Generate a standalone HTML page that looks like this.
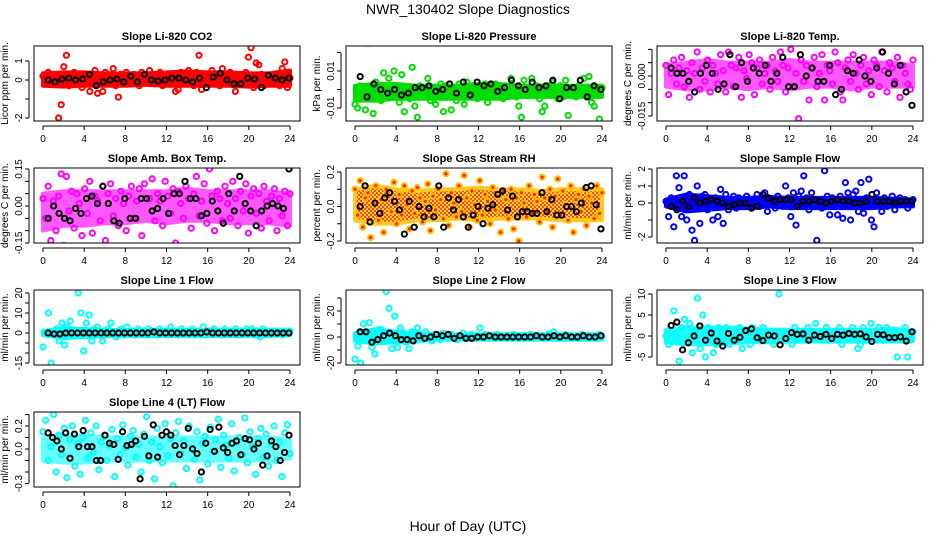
<!DOCTYPE html>
<html><head><meta charset="utf-8"><style>
body{margin:0;background:#fff}
svg{display:block;font-family:"Liberation Sans",sans-serif}
</style></head><body>
<svg id="chart" width="936" height="540" viewBox="0 0 936 540">
<defs>
<pattern id="rhpat" width="4" height="4" patternUnits="userSpaceOnUse"><rect width="4" height="4" fill="#ffd000"/><rect width="2" height="2" fill="#ff2000"/><rect x="2" y="2" width="2" height="2" fill="#ff2000"/></pattern>
</defs>
<rect width="936" height="540" fill="#fff"/>
<text x="468" y="14" text-anchor="middle" font-size="14">NWR_130402  Slope Diagnostics</text>
<text x="468" y="531" text-anchor="middle" font-size="14">Hour of Day (UTC)</text>
</svg>
<script>
const xTicks = [0,4,8,12,16,20,24];
const bandHours = [0,2,4,6,8,10,12,14,16,18,20,22,24];
const co2Vals = [0.2,-0.2,0.4,0.1,-0.1,0.3,-2.0,-1.3,0.7,1.3,-0.3,0.2,0.4,-0.1,0.3,-0.4,0.1,0.2,-0.6,0.3,0.5,-0.7,0.2,-0.6,0.4,-0.2,0.1,0.6,-0.3,-0.9,0.3,-0.1,0.4,0.2,-0.2,0.3,0.1,-0.3,0.4,0.2,-0.1,0.5,0.3,-0.2,0.1,0.4,-0.3,0.2,0.3,-0.1,0.1,-0.6,-0.5,0.4,0.2,-0.2,0.5,0.1,-0.3,0.4,1.3,-0.5,0.2,0.3,-0.2,0.5,0.1,0.2,-0.3,0.6,0.3,-0.2,0.4,0.1,-0.6,0.2,0.3,-0.2,0.4,1.2,1.7,-0.4,0.9,0.8,0.3,-0.3,0.2,0.1,-0.2,0.3,0.2,-0.3,0.6,0.95,-0.4,0.1];
const co2Black = [0,-0.1,0.05,0.1,0,0.05,0.3,-0.3,-0.1,0,0.05,-0.1,0.2,-0.1,0.3,0,-0.05,0,0.1,0.1,0,-0.1,0.1,-0.4,0.15,0.35,0,-0.2,-0.2,0.1,0.05,-0.4,0.25,0.1,0,0.1];
const co2Lo = [-0.3,-0.35,-0.3,-0.3,-0.3,-0.25,-0.3,-0.3,-0.3,-0.3,-0.35,-0.3,-0.3];
const co2Hi = [0.35,0.4,0.4,0.35,0.35,0.35,0.4,0.45,0.4,0.4,0.35,0.35,0.5];
const presVals = [-0.008,-0.01,0.002,-0.003,-0.011,0.025,-0.005,-0.013,0.004,-0.002,-0.006,0.009,-0.001,0.006,-0.004,0.01,-0.003,-0.007,0.008,-0.012,0.001,-0.005,0.012,-0.009,-0.015,0.002,-0.003,-0.001,0.006,-0.006,0.001,-0.008,-0.002,0.003,-0.012,0.002,-0.004,-0.011,0.001,-0.006,0.003,-0.002,-0.008,0.004,-0.001,-0.004,0.002,-0.005,0.001,-0.003,0.003,-0.007,0.0,-0.002,0.003,-0.004,0.001,-0.005,0.002,-0.003,0.006,-0.001,-0.004,-0.009,-0.015,0.005,0.001,-0.003,0.006,-0.002,0.002,-0.005,-0.012,-0.009,0.002,-0.003,0.004,-0.001,-0.005,0.002,-0.004,0.005,-0.014,-0.003,0.001,-0.004,0.002,-0.001,0.006,-0.003,0.007,-0.007,-0.009,-0.002,-0.016,0.001];
const presBlack = [0.007,-0.004,0.003,0,-0.002,0,-0.003,-0.002,0.001,0.001,0.002,-0.001,0,0.003,-0.002,0.004,-0.003,0.004,0.002,0.003,-0.001,0.001,0.005,0.002,0,0.004,0.001,0.002,0.005,-0.005,0.001,0.001,0.005,-0.004,0.002,0];
const presLo = [-0.006,-0.006,-0.005,-0.005,-0.005,-0.005,-0.005,-0.005,-0.004,-0.004,-0.004,-0.004,-0.004];
const presHi = [0.002,0.003,0.003,0.002,0.002,0.002,0.003,0.003,0.002,0.002,0.002,0.002,0.002];
const tempVals = [0.004,-0.007,0.001,0.006,-0.003,0.003,0.007,-0.004,0.002,-0.008,0.005,0.001,0.009,-0.005,0.003,-0.002,0.006,-0.006,0.004,0.001,-0.003,0.008,0.002,-0.006,0.009,0.004,-0.004,0.003,0.007,-0.008,0.002,-0.001,0.008,0.005,-0.007,0.003,0.006,-0.003,0.001,0.004,-0.005,0.007,0.002,-0.002,0.009,0.004,-0.006,0.003,0.01,-0.004,0.001,-0.016,0.006,-0.002,0.004,-0.009,0.003,0.007,-0.004,0.001,0.008,-0.009,0.004,0.002,-0.003,0.009,0.005,-0.006,-0.009,0.003,0.006,-0.002,0.008,0.001,-0.005,0.004,0.007,-0.003,0.002,-0.007,0.006,0.004,-0.004,0.009,0.002,-0.006,0.005,0.003,-0.002,0.007,-0.008,0.004,0.001,-0.003,-0.005,0.006];
const tempBlack = [0.003,0.001,0.001,-0.002,-0.006,0.001,0.004,0.001,-0.005,-0.003,0.008,-0.004,0.005,-0.002,0.003,0.001,0.004,-0.002,0.001,0.007,-0.004,-0.004,0.008,0,0.003,-0.002,-0.002,0.004,-0.007,-0.005,0.002,0.001,0.006,0,-0.002,0.003,0.009,0.001,-0.003,0.004,-0.006,-0.011];
const tempLo = [-0.004,-0.005,-0.005,-0.004,-0.005,-0.004,-0.005,-0.004,-0.004,-0.005,-0.004,-0.004,-0.004];
const tempHi = [0.004,0.005,0.006,0.005,0.005,0.005,0.006,0.005,0.005,0.005,0.005,0.005,0.004];
const ambVals = [0.03,-0.05,0.08,-0.14,0.02,-0.1,0.04,0.13,-0.16,0.12,-0.02,0.06,-0.09,0.05,0.01,-0.12,0.07,-0.03,0.1,-0.11,0.04,0.02,-0.06,0.08,-0.14,0.05,0.09,-0.04,0.03,-0.08,0.06,0.01,-0.1,0.04,0.08,-0.05,0.02,0.07,-0.12,0.09,-0.17,0.03,0.11,-0.06,0.05,0.02,-0.08,0.1,0.04,-0.03,0.07,-0.15,0.06,0.01,-0.05,0.08,0.03,-0.09,0.05,0.12,-0.04,0.02,0.09,-0.07,0.15,0.04,-0.1,0.06,0.03,-0.06,0.08,0.01,-0.05,0.1,0.03,-0.08,0.06,-0.02,0.09,-0.11,0.04,0.07,-0.03,0.05,-0.09,0.08,0.02,-0.06,0.04,0.07,-0.1,0.03,-0.04,0.06,-0.08,0.05];
const ambBlack = [-0.05,0,-0.03,-0.05,-0.06,-0.01,-0.03,0.03,0.04,0.01,0.08,0.01,-0.06,-0.07,0.03,-0.05,-0.05,0.03,0.03,-0.02,-0.01,0.03,-0.03,0.05,0.05,0.1,0.03,0.03,-0.04,-0.03,0.02,-0.02,-0.07,0.05,-0.02,0.12,0.01,-0.02,-0.08,-0.02,0,0.01,0,-0.01,0.15];
const ambLo = [-0.1,-0.08,-0.08,-0.07,-0.07,-0.06,-0.07,-0.06,-0.06,-0.07,-0.07,-0.07,-0.08];
const ambHi = [0.05,0.06,0.06,0.06,0.06,0.06,0.06,0.07,0.06,0.06,0.06,0.06,0.05];
const rhVals = [0.1,-0.05,0.15,-0.12,0.05,0.08,-0.18,0.02,0.12,-0.08,0.04,-0.15,0.1,0.06,-0.03,0.14,-0.1,0.07,-0.05,0.12,0.01,-0.13,0.09,-0.04,0.11,0.05,-0.09,0.03,0.13,-0.14,0.06,-0.02,0.1,0.04,-0.07,0.19,-0.11,0.08,0.02,-0.06,0.12,-0.03,0.18,0.05,-0.12,0.09,0.01,-0.08,0.15,-0.05,0.07,0.03,-0.1,0.11,-0.02,0.06,-0.15,0.09,0.04,-0.07,0.1,-0.13,0.05,-0.2,0.08,0.02,-0.06,0.12,-0.04,0.07,0.03,-0.09,0.17,0.05,-0.03,0.1,-0.12,0.06,0.16,-0.05,0.09,0.01,-0.08,0.12,-0.15,0.04,0.07,-0.03,0.1,-0.11,0.06,0.02,-0.07,0.12,-0.04,0.08];
const rhBlack = [0,0.12,-0.09,0.02,-0.04,0.05,0.08,0.03,-0.02,-0.16,0.03,-0.12,0,-0.06,-0.01,-0.06,0.12,-0.12,0.05,-0.02,0.04,-0.06,-0.12,-0.05,0,-0.1,-0.01,0.01,0.07,0.09,-0.02,0.06,-0.06,-0.03,-0.03,-0.04,-0.04,0.08,-0.03,0.04,-0.05,-0.05,0,0,-0.03,0.02,0.11,0.12,0.01,-0.13];
const rhLo = [-0.08,-0.1,-0.1,-0.08,-0.08,-0.07,-0.08,-0.07,-0.07,-0.07,-0.08,-0.08,-0.08];
const rhHi = [0.1,0.12,0.1,0.09,0.1,0.1,0.11,0.1,0.1,0.09,0.1,0.1,0.1];
const flowVals = [0.1,-0.8,0.3,-1.4,1.6,0.9,-0.8,1.6,-1.0,0.5,-1.6,-2.2,1.0,-1.2,0.4,0.5,-0.4,0.2,-1.0,0.3,-0.8,0.8,-1.2,0.5,-0.4,0.2,0.4,-0.3,0.3,0.1,-0.2,0.4,0.2,-0.3,0.1,0.5,-0.2,0.3,0.6,-0.5,0.2,0.1,-0.3,0.4,0.2,-0.2,1.0,0.3,-0.8,0.6,-1.3,0.4,0.7,1.6,0.3,-0.4,0.6,0.1,-2.2,0.2,-0.3,1.9,0.4,-0.7,0.3,0.1,-0.7,0.4,-0.9,1.2,0.6,-1.0,0.5,0.7,-0.5,1.2,-0.6,0.3,1.4,-1.0,-1.4,0.6,0.2,-0.5,0.3,-0.2,0.1,0.4,-0.4,0.2,0.3,-0.1,0.2,-0.3,0.1,0.2];
const flowBlack = [-0.2,-0.4,0.1,-0.2,0.3,0,0.1,0.2,0.1,0,-0.2,-0.1,0,0,-0.3,-0.2,0.5,0.3,0.1,0.2,0.2,0.2,-0.2,0.1,0.1,0.2,0.1,0,0.1,0.2,0.1,0.1,0,0,0.1,0.5,0.1,0.1,0.1,0,0.1,0.1,0.1];
const flowLo = [-0.2,-0.5,-0.4,-0.3,-0.3,-0.2,-0.3,-0.3,-0.3,-0.3,-0.3,-0.2,-0.2];
const flowHi = [0.2,0.5,0.4,0.3,0.3,0.35,0.3,0.3,0.3,0.3,0.3,0.25,0.2];
const l1Vals = [-7,0,10,-15,0,2,-4,5,-6,3,6,1,0,20,10,-9,5,9,-4,2,3,-1,-4,1,2,5,0,-2,1,2,-1,3,0,1,-1,2,0,1,-1,2,1,0,-1,2,0,1,-1,3,0,1,-1,2,0,1,0,2,-1,1,0,3,-1,1,0,2,0,1,-1,2,0,1,0,2,-1,1,0,2,0,2,-1,1,-2,2,0,1,0,1,0,1,-1,1,0,1];
const l1Black = [0,-0.5,-0.5,0,0,0,0,0,0,0,0,0,0,0,0,0,0,0,0.5,0,0,0,0,0,0,0,0,0.5,0,0,0,0,0,0,0,0,0,0,0,0,0,0];
const l1Lo = [-1,-2.5,-2,-1.5,-1.5,-1.5,-1.5,-1.5,-1.5,-1.5,-1.5,-1.5,-1];
const l1Hi = [1,2.5,2,1.5,1.5,1.5,1.5,1.5,1.5,1.5,1.5,1.5,1];
const l2Vals = [-17,-7,-20,10,-3,11,-8,-13,5,6,-3,35,22,-9,16,-8,7,3,-4,-9,4,-3,7,2,-2,4,0,-3,2,1,-2,3,0,-1,2,0,-2,1,3,-1,0,2,-1,1,7,0,2,-1,1,0,2,-1,1,0,1,-1,2,0,1,-1,1,0,2,-1,1,0,1,-1,2,0,4,-1,1,0,2,-1,1,0,1,-1,2,0,1,0,1,-1,2,0];
const l2Black = [4,4,-4,-2,1,3,1,-2,-2,-3,1,-1,0,2,1,2,-1,1,-1,-1,0,0,1,0,0,0,0,0,0,0,1,0,0,1,0,1,0,0,1,0,0,1];
const l2Lo = [-3,-5,-4,-3,-2,-2,-2,-2,-2,-2,-2,-2,-2];
const l2Hi = [3,6,4,3,2,2,2,2,2,2,2,2,2];
const l3Vals = [0,-2,1,6,-1,-6,2,4,-1,3,-4,1,9,-3,5,-5,2,0,-4,-2,2,1,-1,2,-2,1,0,-1,2,-3,1,0,-2,2,-1,1,0,2,-1,0,1,-2,1,10,0,-1,1,0,-2,2,-1,1,0,-1,2,-1,1,3,0,-1,1,2,-1,0,1,-1,2,-2,0,1,-1,2,0,-3,-2,2,-1,1,3,0,-1,2,1,-1,2,0,-1,1,-5,0,-1,2,-5,-1,1];
const l3Black = [2.5,3.3,-3.3,-1.6,0,2.4,-1,0.7,-1.2,-2.4,0.6,-1,-0.3,1.3,1.7,-0.4,-1.1,0.2,0,-2.1,-0.6,0.8,0.4,0.5,-1,0.2,-0.1,0.4,-0.6,0.4,0.2,0.6,0.4,0.5,-0.2,-1.3,0.4,0.3,-0.4,-0.4,-0.2,-1.2,1];
const l3Lo = [-1.5,-2,-2,-1.8,-1.5,-1.5,-1.3,-1.3,-1.3,-1.3,-1.3,-1.3,-1.2];
const l3Hi = [1.5,2,2,2,1.8,1.5,1.5,1.5,1.5,1.5,1.5,1.8,1.2];
const l4Vals = [0.15,0.25,-0.1,0.02,0.3,-0.2,0.12,-0.05,0.18,-0.25,0.08,0.2,-0.15,0.05,-0.22,0.1,0.25,-0.08,0.14,-0.03,0.2,-0.18,0.06,0.12,-0.1,0.03,0.17,-0.24,0.09,-0.05,0.21,0.01,-0.14,0.11,0.16,-0.07,0.04,-0.2,0.13,0.28,-0.1,0.06,-0.26,0.18,0.02,-0.12,0.22,-0.06,0.09,-0.32,0.14,0.24,-0.04,0.07,-0.17,0.2,0.01,-0.09,0.15,-0.27,0.05,0.11,-0.13,0.19,-0.02,0.08,0.26,-0.16,0.12,0.03,-0.08,0.22,-0.19,0.06,0.1,-0.05,0.27,-0.12,0.15,0.02,-0.22,0.09,0.18,-0.07,0.13,-0.15,0.04,0.2,-0.1,0.06,-0.24,0.14,0.21,-0.04];
const l4Black = [0.14,0.1,0.07,0,0.14,-0.08,0.13,0.02,0.16,0.02,0.02,-0.1,-0.1,0.12,0.05,0.04,-0.09,0.15,0.03,0.04,0.07,-0.26,0.11,-0.06,0.21,-0.07,0.12,0.15,0.12,0.03,-0.05,0.03,0.18,0,-0.04,-0.2,0.05,0.17,-0.02,0.19,0.01,-0.03,0.05,0.07,-0.05,0.09,0.08,0,0.05,-0.14,-0.06,0.07,0.02,-0.1,-0.03,0.12];
const l4Lo = [-0.1,-0.12,-0.12,-0.1,-0.1,-0.1,-0.1,-0.1,-0.1,-0.1,-0.1,-0.1,-0.08];
const l4Hi = [0.1,0.12,0.12,0.1,0.1,0.1,0.1,0.1,0.1,0.1,0.1,0.1,0.08];

const NS='http://www.w3.org/2000/svg';
const svg=document.getElementById('chart');
function mk(tag,attrs,parent){const e=document.createElementNS(NS,tag);for(const k in attrs)e.setAttribute(k,attrs[k]);(parent||svg).appendChild(e);return e;}

const panels=[
 {name:'co2',title:'Slope Li-820 CO2',ylab:'Licor ppm per min.',col:0,row:0,v1:1,p1:61,v2:0,p2:80,ticks:[-2,-1,0,1],labels:{'-2':'-2','0':'0','1':'1'},color:'#ff0000',op:1,vals:co2Vals,black:co2Black,lo:co2Lo,hi:co2Hi},
 {name:'pressure',title:'Slope Li-820 Pressure',ylab:'kPa per min.',col:1,row:0,v1:0.01,p1:71,v2:-0.01,p2:108,ticks:[-0.01,0,0.01,0.02],labels:{'-0.01':'-0.01','0.01':'0.01'},color:'#00dd00',op:1,vals:presVals,black:presBlack,lo:presLo,hi:presHi},
 {name:'temp',title:'Slope Li-820 Temp.',ylab:'degrees C per min.',col:2,row:0,v1:0,p1:76,v2:-0.015,p2:116,ticks:[-0.015,-0.01,-0.005,0,0.005,0.01],labels:{'0':'0.000','-0.015':'-0.015'},color:'#ff00ff',op:0.65,vals:tempVals,black:tempBlack,lo:tempLo,hi:tempHi},
 {name:'amb-temp',title:'Slope Amb. Box Temp.',ylab:'degrees C per min.',col:0,row:1,v1:0.15,p1:169,v2:-0.15,p2:243,ticks:[-0.15,-0.1,-0.05,0,0.05,0.1,0.15],labels:{'0.15':'0.15','0':'0.00','-0.15':'-0.15'},color:'#ff00ff',op:0.65,vals:ambVals,black:ambBlack,lo:ambLo,hi:ambHi},
 {name:'gas-rh',title:'Slope Gas Stream RH',ylab:'percent per min.',col:1,row:1,v1:0.2,p1:172,v2:-0.2,p2:241,ticks:[-0.2,-0.1,0,0.1,0.2],labels:{'0.2':'0.2','0':'0.0','-0.2':'-0.2'},color:'#ffc000',inner:'#ff2000',bandFill:'url(#rhpat)',op:0.85,vals:rhVals,black:rhBlack,lo:rhLo,hi:rhHi},
 {name:'sample-flow',title:'Slope Sample Flow',ylab:'ml/min per min.',col:2,row:1,v1:2,p1:169,v2:-2,p2:237,ticks:[-2,-1,0,1,2],labels:{'2':'2','1':'1','0':'0','-2':'-2'},color:'#0000ff',op:1,vals:flowVals,black:flowBlack,lo:flowLo,hi:flowHi},
 {name:'line1-flow',title:'Slope Line 1 Flow',ylab:'ml/min per min.',col:0,row:2,v1:20,p1:293,v2:0,p2:333,ticks:[-15,-10,-5,0,5,10,15,20],labels:{'20':'20','10':'10','0':'0','-15':'-15'},color:'#00ffff',op:1,vals:l1Vals,black:l1Black,lo:l1Lo,hi:l1Hi},
 {name:'line2-flow',title:'Slope Line 2 Flow',ylab:'ml/min per min.',col:1,row:2,v1:20,p1:311,v2:-20,p2:363,ticks:[-20,-10,0,10,20,30],labels:{'20':'20','0':'0','-20':'-20'},color:'#00ffff',op:1,vals:l2Vals,black:l2Black,lo:l2Lo,hi:l2Hi},
 {name:'line3-flow',title:'Slope Line 3 Flow',ylab:'ml/min per min.',col:2,row:2,v1:10,p1:294,v2:0,p2:336,ticks:[-5,0,5,10],labels:{'10':'10','5':'5','0':'0','-5':'-5'},color:'#00ffff',op:0.9,vals:l3Vals,black:l3Black,lo:l3Lo,hi:l3Hi},
 {name:'line4-flow',title:'Slope Line 4 (LT) Flow',ylab:'ml/min per min.',col:0,row:3,v1:0.2,p1:426,v2:0,p2:449,ticks:[-0.3,-0.2,-0.1,0,0.1,0.2,0.3],labels:{'0.2':'0.2','0':'0.0','-0.3':'-0.3'},color:'#00ffff',op:0.6,vals:l4Vals,black:l4Black,lo:l4Lo,hi:l4Hi}
];
const colLeft=[34,346,657], rowTop=[46,168,290,412], W=266, H=75;

panels.forEach(p=>{
  const L=colLeft[p.col], T=rowTop[p.row], B=T+H;
  const g=mk('g',{});
  
  
  const xs=h=>L+9+h*(247/24);
  const ys=v=>p.p1+(v-p.v1)*(p.p2-p.p1)/(p.v2-p.v1);
  const clip=mk('clipPath',{id:'c-'+p.name},g);
  mk('rect',{x:L,y:T,width:W,height:H},clip);
  const pts=mk('g',{'clip-path':'url(#c-'+p.name+')'},g);
  const up=bandHours.map((h,i)=>xs(h)+','+ys(p.hi[i]));
  const dn=bandHours.map((h,i)=>xs(h)+','+ys(p.lo[i])).reverse();
  const band=mk('polygon',{points:up.concat(dn).join(' '),fill:p.bandFill||p.color,stroke:p.bandFill?'#ffc000':p.color,'stroke-width':4,'stroke-linejoin':'round',opacity:p.op},pts);
  
  
  p.vals.forEach((v,i)=>{
    const h=i*24/(p.vals.length-1);
    const c=mk('circle',{cx:xs(h),cy:ys(v),r:2.6,fill:p.inner?p.inner:'none',stroke:p.color,'stroke-width':2},pts);
    
    
  });
  p.black.forEach((v,i)=>{
    const h=0.5+i*23.4/(p.black.length-1);
    const c=mk('circle',{cx:xs(h),cy:ys(v),r:2.6,fill:'none',stroke:'#000','stroke-width':2},pts);
    
    
  });
  const box=mk('rect',{x:L,y:T,width:W,height:H,fill:'none',stroke:'#000','stroke-width':1},g);
  
  
  const t=mk('text',{x:L+W/2,y:T-6,'text-anchor':'middle','font-size':11,'font-weight':'bold'},g);
  t.textContent=p.title;
  
  
  mk('line',{x1:xs(0),x2:xs(24),y1:B+5,y2:B+5,stroke:'#000'},g);
  xTicks.forEach(h=>{
    mk('line',{x1:xs(h),x2:xs(h),y1:B+5,y2:B+9,stroke:'#000'},g);
    const tx=mk('text',{x:xs(h),y:B+21,'text-anchor':'middle','font-size':10},g);
    tx.textContent=h;
    
    
  });
  const tk=p.ticks;
  mk('line',{x1:L-5,x2:L-5,y1:ys(tk[0]),y2:ys(tk[tk.length-1]),stroke:'#000'},g);
  tk.forEach(v=>{
    const y=ys(v);
    mk('line',{x1:L-9,x2:L-5,y1:y,y2:y,stroke:'#000'},g);
    const key=String(v);
    if(p.labels[key]!==undefined){
      const ty=mk('text',{x:L-12,y:y,'text-anchor':'middle','font-size':10,transform:'rotate(-90 '+(L-12)+' '+y+')'},g);
      ty.textContent=p.labels[key];
      
      
    }
  });
  const yl=mk('text',{x:L-26,y:T+H/2,'text-anchor':'middle','font-size':10,transform:'rotate(-90 '+(L-26)+' '+(T+H/2)+')'},g);
  yl.textContent=p.ylab;
  
  
});
</script>
</body></html>
